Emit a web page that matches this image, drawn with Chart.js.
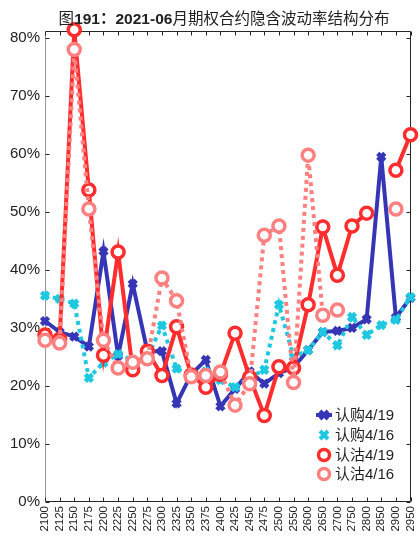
<!DOCTYPE html>
<html>
<head>
<meta charset="utf-8">
<script src="https://cdn.jsdelivr.net/npm/chart.js@4.4.1/dist/chart.umd.min.js"></script>
<style>
  html, body { margin: 0; padding: 0; background: #fff; }
  #wrap { position: relative; width: 420px; height: 536px; }
  #title { position: absolute; left: 0; top: 6px; width: 448px; text-align: center;
           font: 15.5px 'Liberation Sans', 'Noto Sans CJK SC', sans-serif; color: #222; white-space: nowrap; }
</style>
</head>
<body>
<div id="wrap">
  <canvas id="chart" width="420" height="536"></canvas>
  <div id="title">图<b>191：2021-06</b>月期权合约隐含波动率结构分布</div>
</div>
<script>
// strike prices
const strikes = ['2100', '2125', '2150', '2175', '2200', '2225', '2250', '2275', '2300', '2325',
  '2350', '2375', '2400', '2425', '2450', '2475', '2500', '2550', '2600', '2650',
  '2700', '2750', '2800', '2850', '2900', '2950'];

// implied vol (%)
const call0419 = [31.2, 29.3, 28.5, 26.8, 43.2, 25.2, 37.6, 26.0, 26.0, 17.0,
  22.0, 24.5, 16.5, 19.5, 22.5, 20.4, 22.2, 23.2, 26.2, 29.3,
  29.5, 30.0, 31.5, 59.5, 31.8, 35.2];
const call0416 = [35.6, 35.0, 34.2, 21.4, 24.0, 25.5, 24.5, 25.0, 30.4, 23.0,
  21.8, 22.5, 21.0, 19.8, 21.5, 22.8, 34.0, 25.0, 26.2, 29.3,
  27.0, 31.9, 28.8, 30.5, 31.4, 35.3];
const put0419 = [28.8, 28.0, 81.4, 53.8, 25.3, 43.1, 22.8, 26.0, 21.8, 30.2,
  21.9, 19.8, 22.0, 29.1, 21.5, 14.9, 23.3, 23.1, 34.0, 47.4,
  39.1, 47.6, 49.8, null, 57.2, 63.3];
const put0416 = [27.9, 27.4, 78.0, 50.5, 27.9, 23.1, 24.1, 24.7, 38.6, 34.7,
  21.6, 21.8, 22.4, 16.7, 20.4, 46.0, 47.6, 20.6, 59.8, 32.2,
  33.1, null, null, null, 50.5, null];

const yTicks = [0, 10, 20, 30, 40, 50, 60, 70, 80];

const FONT = "'Liberation Sans', 'Noto Sans CJK SC', sans-serif";
const BLUE = '#3535b5';
const CYAN = '#1ec8e0';
const RED = '#ff2d2d';
const PINK = '#ff8080';

// box around plot with inward ticks + legend inside
const framePlugin = {
  id: 'frame',
  beforeDatasetsDraw(chart) {
    const { ctx, chartArea: a, scales } = chart;
    const x = scales.x, y = scales.y;
    ctx.save();
    ctx.lineWidth = 1;
    const L = Math.round(a.left) + 0.5, R = Math.round(a.right) - 0.5;
    const T = Math.round(a.top) + 0.5, B = Math.round(a.bottom) - 0.5;
    ctx.strokeStyle = '#262626';
    ctx.beginPath();
    ctx.moveTo(L, T); ctx.lineTo(R, T); ctx.lineTo(R, B); ctx.lineTo(L, B);
    ctx.stroke();
    ctx.strokeStyle = '#999';
    ctx.beginPath();
    ctx.moveTo(L, T); ctx.lineTo(L, B);
    ctx.stroke();

    ctx.strokeStyle = '#262626';
    ctx.beginPath();
    for (let i = 0; i < strikes.length; i++) {
      const px = Math.round(x.getPixelForValue(i)) + 0.5;
      ctx.moveTo(px, B); ctx.lineTo(px, B - 4);
      ctx.moveTo(px, T); ctx.lineTo(px, T + 4);
    }
    yTicks.forEach(v => {
      const py = Math.round(y.getPixelForValue(v)) + 0.5;
      ctx.moveTo(L, py); ctx.lineTo(L + 4, py);
      ctx.moveTo(R, py); ctx.lineTo(R - 4, py);
    });
    ctx.stroke();
    ctx.restore();
  },
  afterDraw(chart) {
    const { ctx } = chart;
    ctx.save();
    ctx.font = '15px ' + FONT;
    ctx.textBaseline = 'middle';
    ctx.fillStyle = '#222';
    const rows = [415, 435, 455, 474];
    chart.data.datasets.forEach((ds, i) => {
      const yy = rows[i], mx = 324;
      ctx.strokeStyle = ds.borderColor;
      ctx.lineWidth = ds.pointBorderWidth;
      if (ds.pointStyle === 'crossRot') {
        ctx.lineWidth = 4;
        if (i === 0) {
          ctx.beginPath(); ctx.moveTo(316, yy); ctx.lineTo(332, yy); ctx.stroke();
        }
        const r = 4;
        ctx.beginPath();
        ctx.moveTo(mx - r, yy - r); ctx.lineTo(mx + r, yy + r);
        ctx.moveTo(mx - r, yy + r); ctx.lineTo(mx + r, yy - r);
        ctx.stroke();
      } else {
        ctx.fillStyle = '#fff';
        ctx.beginPath(); ctx.arc(mx, yy, 5.5, 0, Math.PI * 2); ctx.fill(); ctx.stroke();
        ctx.fillStyle = '#222';
      }
      ctx.fillText(ds.label, 335, yy + 1);
    });
    ctx.restore();
  }
};

function series(label, data, color, dotted, marker, order) {
  const circle = marker === 'circle';
  return {
    label, data, order,
    borderColor: color,
    backgroundColor: circle ? '#fff' : color,
    borderWidth: 4,
    borderDash: dotted ? [4, 4] : [],
    pointStyle: marker,
    pointRadius: circle ? 6 : 5,
    pointBorderWidth: circle ? 3.5 : 4.5,
    pointBorderColor: color,
    pointBackgroundColor: circle ? '#fff' : color,
    spanGaps: false,
    clip: false,
    tension: 0
  };
}

new Chart(document.getElementById('chart'), {
  type: 'line',
  data: {
    labels: strikes,
    datasets: [
      series('认购4/19', call0419, BLUE, false, 'crossRot', 4),
      series('认购4/16', call0416, CYAN, true, 'crossRot', 3),
      series('认沽4/19', put0419, RED, false, 'circle', 2),
      series('认沽4/16', put0416, PINK, true, 'circle', 1)
    ]
  },
  options: {
    responsive: false,
    animation: false,
    devicePixelRatio: 1,
    layout: { padding: { top: 31, right: 4, left: 0, bottom: 0 } },
    plugins: { legend: { display: false }, tooltip: { enabled: false }, title: { display: false } },
    scales: {
      x: {
        type: 'category',
        offset: false,
        grid: { display: false, drawTicks: false },
        border: { display: false },
        ticks: {
          autoSkip: false, minRotation: 90, maxRotation: 90, padding: 4,
          color: '#222', font: { family: FONT, size: 11.5 }
        },
        afterFit(scale) {
          scale.height = 34;
          scale.paddingLeft = 0;
          scale.paddingRight = 0;
        }
      },
      y: {
        min: 0,
        max: 81.2,
        grid: { display: false, drawTicks: false },
        border: { display: false },
        afterBuildTicks(scale) {
          scale.ticks = yTicks.map(v => ({ value: v }));
        },
        ticks: {
          padding: 5,
          color: '#222',
          font: { family: FONT, size: 15 },
          callback: v => v + '%'
        },
        afterFit(scale) {
          scale.width = 45;
          scale.paddingTop = 0;
          scale.paddingBottom = 0;
        }
      }
    }
  },
  plugins: [framePlugin]
});
</script>
</body>
</html>
